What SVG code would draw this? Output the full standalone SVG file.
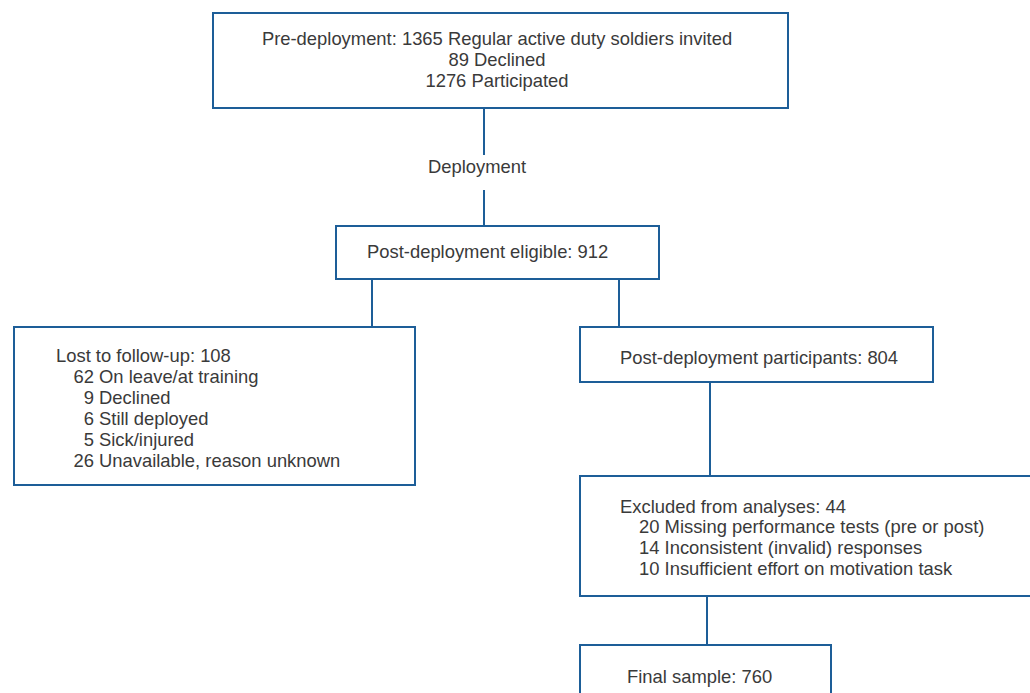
<svg xmlns="http://www.w3.org/2000/svg" width="1030" height="693" viewBox="0 0 1030 693">
<style>
.box{fill:#fff;stroke:#1d5e98;stroke-width:2}
.ln{stroke:#1d5e98;stroke-width:2;fill:none}
text{font-family:"Liberation Sans",Arial,sans-serif;font-size:18.4px;fill:#3a3a3a}
.c{text-anchor:middle}
.e{text-anchor:end}
</style>
<rect width="1030" height="693" fill="#fff"/>
<g id="connectors">
<line class="ln" x1="484" y1="108" x2="484" y2="155"/>
<line class="ln" x1="484" y1="190" x2="484" y2="226"/>
<line class="ln" x1="372" y1="279" x2="372" y2="327"/>
<line class="ln" x1="619" y1="279" x2="619" y2="327"/>
<line class="ln" x1="710" y1="382" x2="710" y2="476"/>
<line class="ln" x1="707" y1="596" x2="707" y2="645"/>
<text id="deployment-label" x="477" y="173" class="c">Deployment</text>
</g>
<g id="pre">
<rect class="box" x="213" y="13" width="575" height="95"/>
<text x="497" y="45" class="c">Pre-deployment: 1365 Regular active duty soldiers invited</text>
<text x="497" y="66" class="c">89 Declined</text>
<text x="497" y="87" class="c">1276 Participated</text>
</g>
<g id="eligible">
<rect class="box" x="336" y="226" width="323" height="53"/>
<text x="367" y="258">Post-deployment eligible: 912</text>
</g>
<g id="lost">
<rect class="box" x="14" y="327" width="401" height="158"/>
<text x="56" y="362">Lost to follow-up: 108</text>
<text x="94" y="383" class="e">62</text><text x="99" y="383">On leave/at training</text>
<text x="94" y="404" class="e">9</text><text x="99" y="404">Declined</text>
<text x="94" y="425" class="e">6</text><text x="99" y="425">Still deployed</text>
<text x="94" y="446" class="e">5</text><text x="99" y="446">Sick/injured</text>
<text x="94" y="467" class="e">26</text><text x="99" y="467">Unavailable, reason unknown</text>
</g>
<g id="participants">
<rect class="box" x="580" y="327" width="353" height="55"/>
<text x="620" y="364">Post-deployment participants: 804</text>
</g>
<g id="excluded">
<rect class="box" x="580" y="476" width="460" height="120"/>
<text x="620" y="513">Excluded from analyses: 44</text>
<text x="639" y="533">20 Missing performance tests (pre or post)</text>
<text x="639" y="554">14 Inconsistent (invalid) responses</text>
<text x="639" y="575">10 Insufficient effort on motivation task</text>
</g>
<g id="final">
<rect class="box" x="580" y="645" width="251" height="60"/>
<text x="627" y="683">Final sample: 760</text>
</g>
</svg>
